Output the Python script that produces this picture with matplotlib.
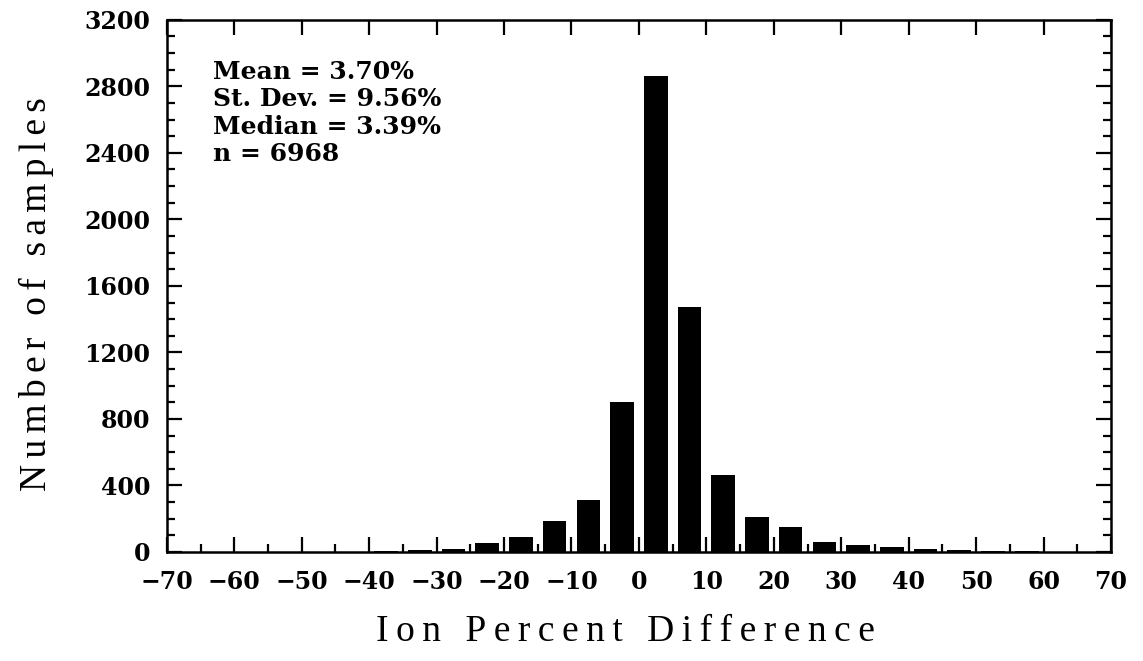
import matplotlib

matplotlib.use("Agg")
import numpy as np
from matplotlib import pyplot as plt
from matplotlib.font_manager import FontProperties
from matplotlib.ticker import MultipleLocator

# histogram of ion percent difference, 5 % bins
bin_centers = np.arange(-67.5, 70, 5)
counts = [
    0, 0, 1, 1, 2, 2, 4, 10, 20, 52, 92, 186, 313, 900,
    2865, 1475, 463, 212, 152, 57, 40, 28, 15, 13, 6, 4, 2, 1,
]
stats_lines = ["Mean = 3.70%", "St. Dev. = 9.56%", "Median = 3.39%", "n = 6968"]
x_ticks = np.arange(-70, 71, 10)
y_ticks = np.arange(0, 3201, 400)


def spaced(text, gap="\u2009"):
    # loose letter spacing like the old typeset axis titles
    return gap.join(text)


figure = plt.figure(figsize=(11.43, 6.61), dpi=100)
axis = figure.add_axes([0.146, 0.165, 0.826, 0.805])

axis.bar(bin_centers, counts, width=3.5, color="black", edgecolor="none")

axis.set_xlim(-70, 70)
axis.set_ylim(0, 3200)
axis.set_xticks(x_ticks)
axis.set_yticks(y_ticks)
axis.xaxis.set_minor_locator(MultipleLocator(5))
axis.yaxis.set_minor_locator(MultipleLocator(100))

tick_font = FontProperties(family="DejaVu Serif", weight="bold", size=17)
for label in axis.get_xticklabels() + axis.get_yticklabels():
    label.set_fontproperties(tick_font)

axis.tick_params(which="both", direction="in", width=1.6,
                 top=True, right=True)
axis.tick_params(which="major", length=11)
axis.tick_params(which="minor", length=6, top=False)
axis.tick_params(axis="x", which="major", pad=13)
axis.tick_params(axis="y", which="major", pad=12)
for spine in axis.spines.values():
    spine.set_linewidth(1.8)

stats_font = FontProperties(family="DejaVu Serif", weight="bold", size=18)
axis.text(0.049, 0.924, "\n".join(stats_lines), transform=axis.transAxes,
          ha="left", va="top", linespacing=1.17, fontproperties=stats_font)

figure.text(0.032, 0.555, spaced("Number of samples", "\u2006"), rotation=90,
            ha="center", va="center", family="Liberation Serif", fontsize=27)
figure.text(0.547, 0.044, spaced("Ion Percent Difference"), ha="center",
            va="center", family="Liberation Serif", fontsize=27)

figure.savefig("out.png", dpi=100)
plt.close(figure)
